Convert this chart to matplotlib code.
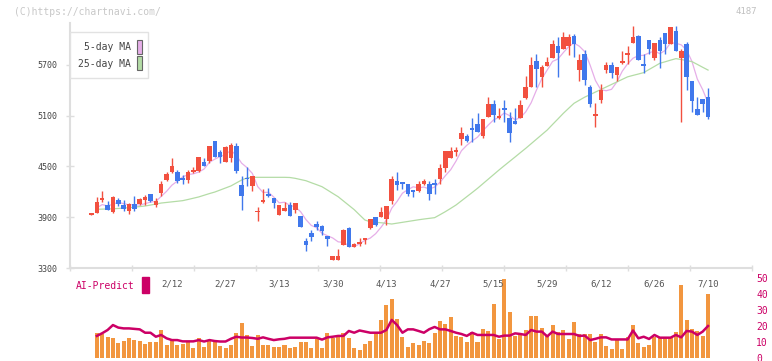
import numpy as np
import pandas as pd
import matplotlib
matplotlib.use("Agg")
import matplotlib.pyplot as plt
from matplotlib.patches import Rectangle

plt.rcParams['font.family'] = ['DejaVu Sans Mono']

# daily prices, bar 0 .. 115
opens = [3928, 3954, 4104, 4045, 3962, 4104, 4045, 3977, 4057, 4060,
         4104, 4175, 4045, 4186, 4340, 4431, 4435, 4364, 4340, 4435,
         4447, 4553, 4565, 4801, 4671, 4553, 4604, 4742, 4281, 4364,
         4269, 3960, 4090, 4170, 4124, 3926, 3974, 4045, 3986, 3915,
         3623, 3714, 3820, 3796, 3678, 3395, 3400, 3572, 3773, 3548,
         3584, 3640, 3773, 3903, 3903, 3879, 4092, 4328, 4317, 4293,
         4222, 4210, 4293, 4293, 4300, 4352, 4485, 4600, 4675, 4825,
         4860, 4950, 5002, 4860, 5085, 5238, 5080, 5190, 5073, 5037,
         5073, 5310, 5440, 5747, 5558, 5688, 5782, 5924, 5888, 5924,
         6042, 5640, 5830, 5440, 5100, 5285, 5640, 5700, 5580, 5723,
         5818, 5960, 6042, 5705, 5995, 5782, 5995, 6077, 5948, 6100,
         5782, 5948, 5510, 5180, 5297, 5320]
highs = [3942, 4136, 4210, 4092, 4150, 4128, 4100, 4064, 4150, 4128,
         4163, 4175, 4128, 4328, 4430, 4600, 4455, 4400, 4455, 4490,
         4615, 4600, 4742, 4801, 4700, 4742, 4778, 4778, 4387, 4490,
         4387, 4025, 4233, 4242, 4124, 4045, 4080, 4080, 4068, 3915,
         3650, 3750, 3850, 3810, 3680, 3445, 3530, 3760, 3785, 3595,
         3655, 3650, 3879, 3903, 4020, 4033, 4387, 4435, 4317, 4293,
         4222, 4328, 4352, 4328, 4352, 4530, 4683, 4730, 4730, 4967,
         4884, 5073, 5132, 5061, 5320, 5285, 5190, 5285, 5143, 5190,
         5285, 5570, 5795, 5830, 5700, 5795, 5995, 6030, 6090, 6065,
         6065, 5830, 5877, 5463, 5250, 5475, 5735, 5735, 5676, 5865,
         5924, 6160, 6053, 5830, 5995, 5960, 6030, 6077, 6148, 6160,
         5890, 5970, 5510, 5320, 5297, 5430]
lows = [3928, 3950, 4084, 3986, 3950, 4030, 3975, 3940, 3970, 4040,
        4050, 4080, 4020, 4150, 4330, 4420, 4310, 4290, 4310, 4420,
        4440, 4505, 4545, 4616, 4545, 4553, 4553, 4423, 3986, 4270,
        4210, 3860, 4068, 4143, 4010, 3926, 3974, 3919, 3950, 3788,
        3505, 3620, 3750, 3690, 3560, 3390, 3395, 3572, 3548, 3548,
        3560, 3584, 3760, 3796, 3903, 3808, 4057, 4220, 4230, 4150,
        4140, 4200, 4280, 4100, 4175, 4293, 4430, 4600, 4620, 4754,
        4790, 4790, 4908, 4840, 5085, 5025, 5060, 5025, 4790, 5002,
        5073, 5300, 5440, 5440, 5440, 5688, 5782, 5558, 5888, 5817,
        5794, 5510, 5462, 5203, 4967, 5250, 5605, 5545, 5510, 5712,
        5712, 5960, 5759, 5600, 5830, 5759, 5665, 5830, 5948, 5865,
        5026, 5400, 5143, 5108, 5143, 5060]
closes = [3942, 4080, 4127, 3986, 4136, 4057, 3997, 4057, 3994, 4116,
          4140, 4092, 4092, 4293, 4415, 4505, 4328, 4340, 4435, 4458,
          4612, 4505, 4742, 4616, 4616, 4730, 4754, 4447, 4151, 4352,
          4387, 3975, 4100, 4160, 4072, 4045, 4010, 3919, 4068, 3788,
          3575, 3666, 3785, 3737, 3646, 3440, 3440, 3749, 3548, 3584,
          3607, 3650, 3879, 3808, 3962, 4033, 4352, 4281, 4293, 4175,
          4198, 4293, 4328, 4175, 4290, 4478, 4683, 4683, 4690, 4896,
          4801, 4940, 4908, 5061, 5238, 5108, 5090, 5170, 4896, 5002,
          5226, 5440, 5700, 5652, 5676, 5735, 5948, 5841, 6030, 6030,
          5948, 5759, 5522, 5238, 5115, 5404, 5700, 5605, 5676, 5747,
          5841, 6030, 5759, 5695, 5888, 5960, 5865, 5948, 6148, 5865,
          5865, 5558, 5274, 5108, 5238, 5085]

# 25-day moving average, bar 1 .. 115
ma25 = [3994, 3996, 3998, 4000, 4004, 4008, 4014, 4020, 4026, 4033,
        4044, 4056, 4068, 4075, 4082, 4089, 4096, 4110, 4125, 4140,
        4160, 4180, 4198, 4222, 4246, 4270, 4305, 4340, 4365, 4372,
        4372, 4372, 4372, 4372, 4372, 4372, 4370, 4360, 4346, 4332,
        4308, 4285, 4261, 4222, 4182, 4143, 4092, 4041, 3990, 3928,
        3867, 3847, 3840, 3835, 3828, 3820, 3830, 3840, 3850, 3860,
        3870, 3879, 3887, 3895, 3930, 3966, 4005, 4045, 4094, 4143,
        4192, 4242, 4296, 4350, 4404, 4458, 4510, 4561, 4612, 4664,
        4715, 4769, 4823, 4877, 4931, 4997, 5062, 5128, 5188, 5247,
        5284, 5320, 5350, 5380, 5410, 5440, 5470, 5500, 5530, 5560,
        5577, 5593, 5610, 5647, 5683, 5720, 5738, 5757, 5775, 5765,
        5752, 5740, 5707, 5673, 5640]

# volume and AI-Predict (right axis units), bar 1 .. 115
volume = [15.8, 15.0, 13.1, 12.5, 9.4, 10.6, 12.5, 11.2, 10.6, 8.8,
          10.0, 10.0, 17.5, 8.1, 11.2, 8.1, 8.8, 10.0, 6.2, 12.5,
          6.9, 10.6, 10.6, 7.5, 6.2, 8.1, 15.6, 22.0, 14.4, 7.5,
          14.4, 8.1, 8.1, 6.9, 6.9, 8.1, 6.2, 6.9, 10.0, 10.0,
          6.2, 11.9, 6.2, 15.6, 12.5, 13.1, 15.6, 12.5, 6.2, 5.0,
          8.8, 10.6, 15.6, 23.8, 33.0, 36.9, 24.4, 13.1, 6.9, 9.4,
          8.1, 10.6, 9.4, 15.6, 23.1, 21.2, 25.6, 13.8, 13.1, 10.0,
          16.2, 10.0, 18.1, 16.9, 33.8, 11.9, 49.4, 28.8, 13.8, 14.4,
          17.5, 26.2, 26.2, 18.8, 13.8, 20.6, 16.2, 17.5, 11.9, 22.5,
          15.0, 15.0, 15.0, 10.0, 15.0, 7.5, 5.6, 11.2, 5.6, 13.1,
          20.6, 9.4, 6.9, 8.1, 13.1, 13.1, 13.1, 13.1, 16.2, 45.6,
          23.8, 18.1, 16.9, 13.8, 40.0]
ai_predict = [13.8, 15.5, 17.5, 20.6, 19.0, 18.5, 18.5, 18.2, 17.9, 15.8,
              15.8, 13.3, 14.4, 12.3, 11.2, 11.2, 10.4, 10.4, 10.4, 11.2,
              10.3, 11.2, 10.6, 10.3, 10.3, 12.0, 13.3, 12.8, 12.8, 12.5,
              12.0, 12.9, 12.0, 11.2, 11.7, 12.0, 12.7, 12.7, 12.7, 12.7,
              12.7, 12.7, 11.5, 12.9, 13.3, 13.8, 13.8, 16.9, 15.8, 17.2,
              16.5, 15.8, 15.8, 15.8, 17.5, 23.8, 20.6, 15.8, 17.9, 17.9,
              16.9, 15.8, 18.0, 19.4, 17.9, 17.9, 16.9, 15.8, 15.0, 13.8,
              15.8, 14.4, 14.4, 14.4, 14.4, 13.3, 14.0, 14.0, 15.4, 15.0,
              14.4, 17.5, 16.5, 16.5, 13.5, 16.5, 15.0, 15.0, 15.0, 15.0,
              13.8, 14.0, 11.2, 12.0, 12.9, 12.9, 11.6, 11.6, 11.6, 11.6,
              17.2, 12.3, 13.3, 11.9, 14.4, 12.7, 12.7, 12.7, 14.4, 12.9,
              16.9, 16.5, 14.4, 16.5, 20.0]

label_bars = [15, 25, 35, 45, 55, 65, 75, 85, 95, 105, 115]
date_labels = ['2/12', '2/27', '3/13', '3/30', '4/13', '4/27',
               '5/15', '5/29', '6/12', '6/26', '7/10']
price_ticks = [3300, 3900, 4500, 5100, 5700]

RED = '#f2503f'
BLUE = '#4078ec'
PINK = '#e6aee8'
GREEN = '#b4dca6'
CRIMSON = '#cc0066'
ORANGE = '#f2963f'
GRID = '#dedede'

W, H = 772, 361
fig = plt.figure(figsize=(W / 100, H / 100), dpi=100)
ax2 = fig.add_axes([70 / W, 1 - 358 / H, 682 / W, 80 / H])
ax = fig.add_axes([70 / W, 1 - 268 / H, 682 / W, 245.3 / H])
ax2.patch.set_visible(False)
ax.patch.set_visible(False)

xmin, xmax = -4.01, 123.2

# candles
x = np.arange(len(closes))
o = np.array(opens, dtype=float)
c = np.array(closes, dtype=float)
colors = np.where(c >= o, RED, BLUE)
ax.vlines(x, lows, highs, colors=colors, lw=1, zorder=3)
body = np.abs(c - o)
h = np.maximum(body, 22)
ax.bar(x, h, 0.85, bottom=np.minimum(o, c) - (h - body) / 2,
       color=colors, zorder=4)

# moving averages
ma5 = pd.Series(c).rolling(5, min_periods=1).mean()
ax.plot(x[1:], ma5[1:], color=PINK, lw=0.9, zorder=2)
ax.plot(x[1:], ma25, color=GREEN, lw=0.9, zorder=2)

ax.set_xlim(xmin, xmax)
ax.set_ylim(3300, 6200)
for s in ['top', 'right']:
    ax.spines[s].set_visible(False)
for s in ['left', 'bottom']:
    ax.spines[s].set_color(GRID)
    ax.spines[s].set_linewidth(1.5)

ax.set_yticks(price_ticks)
ax.tick_params(axis='y', direction='inout', length=6, width=1, color=GRID,
               labelsize=6, labelcolor='#444444', pad=6)
ax.set_xticks(label_bars)
ax.set_xticklabels(date_labels)
ax.tick_params(axis='x', which='major', length=0, pad=8,
               labelsize=6.5, labelcolor='#555555')
ax.set_xticks(np.linspace(xmin, xmax, 12), minor=True)
ax.tick_params(axis='x', which='minor', direction='inout', length=5,
               width=1, color=GRID)

# legend box
ax.add_patch(Rectangle((0, 0.7756), 0.1144, 0.185, transform=ax.transAxes,
                       facecolor='white', edgecolor='#e2e2e2', lw=1,
                       zorder=6, clip_on=False))
for yb, col, txt in [(0.874, PINK, '5-day MA'), (0.807, GREEN, '25-day MA')]:
    ax.add_patch(Rectangle((0.0985, yb), 0.0075, 0.057, transform=ax.transAxes,
                           facecolor=col, edgecolor='#666666', lw=0.8,
                           zorder=7, clip_on=False))
    ax.text(0.089, yb + 0.025, txt, transform=ax.transAxes, ha='right',
            va='center', fontsize=7, color='#444444', zorder=7)

# lower panel
xv = x[1:]
ax2.bar(xv, volume, 0.75, color=ORANGE, zorder=2)
ax2.plot(xv, ai_predict, color=CRIMSON, lw=1.8, zorder=3)
ax2.set_xlim(xmin, xmax)
ax2.set_ylim(0, 50)
for s in ax2.spines.values():
    s.set_visible(False)
ax2.set_xticks([])
ax2.yaxis.tick_right()
ax2.set_yticks(range(0, 51, 10))
ax2.tick_params(axis='y', length=0, pad=3, labelsize=7, labelcolor=CRIMSON)

fig.text(76 / W, 1 - 286 / H, 'AI-Predict', ha='left', va='center',
         fontsize=7, color=CRIMSON)
fig.patches.append(Rectangle((142 / W, 1 - 293 / H), 7 / W, 16 / H,
                             transform=fig.transFigure, color=CRIMSON))

fig.text(14 / W, 1 - 12 / H, '(C)https://chartnavi.com/', ha='left',
         va='center', fontsize=7, color='#c8c8c8')
fig.text(757 / W, 1 - 12 / H, '4187', ha='right', va='center',
         fontsize=6.5, color='#c0c0c0')

fig.savefig('out.png', dpi=100)
